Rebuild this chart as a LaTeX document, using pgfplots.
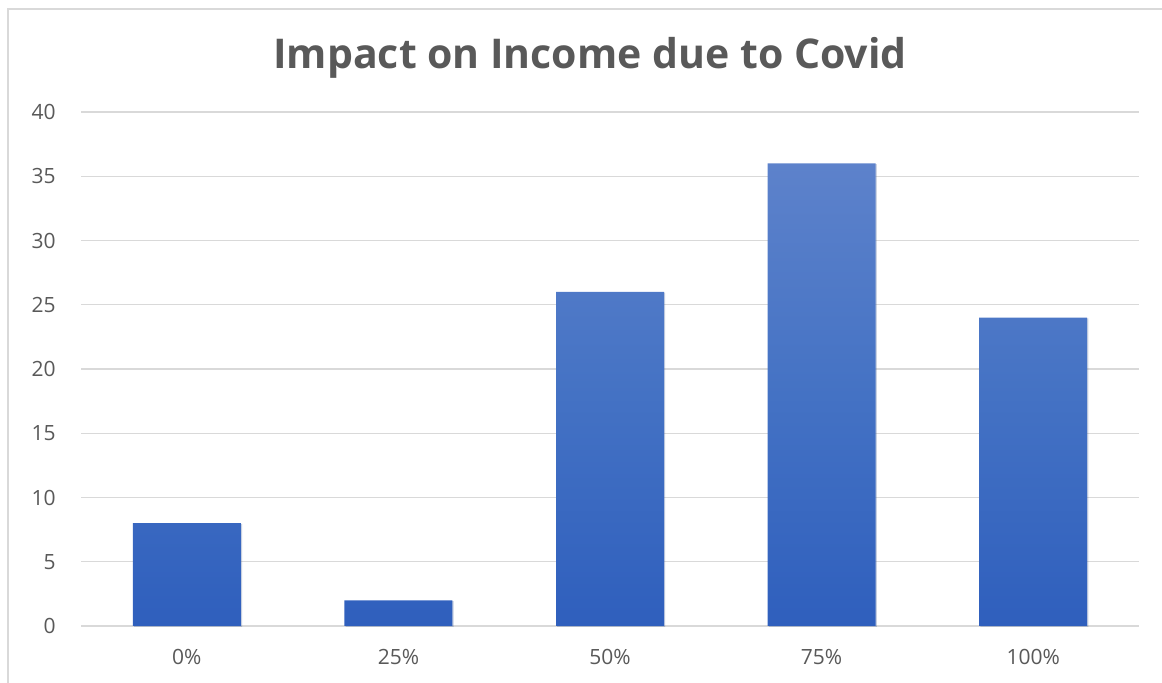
\documentclass[border=0pt]{standalone}
\usepackage{pgfplots}
\pgfplotsset{compat=1.18}
\usepackage{fontspec}
\setmainfont{Open Sans}
\usetikzlibrary{shadows}
\definecolor{txt}{HTML}{595959}
\definecolor{gridc}{HTML}{D9D9D9}
\definecolor{bartop}{HTML}{5D82CB}
\definecolor{barmid}{HTML}{4472C4}
\definecolor{barbot}{HTML}{2F5FBD}
\begin{document}
\begin{tikzpicture}
\path[use as bounding box] (0,0) rectangle (581pt,341.5pt);
\draw[gridc, line width=1pt] (4pt,0) -- (4pt,337pt) -- (581pt,337pt);
\begin{axis}[
  at={(40.5pt,28.5pt)}, anchor=south west,
  scale only axis, width=529pt, height=257pt,
  xmin=-0.5, xmax=4.5, ymin=0, ymax=40,
  ytick={0,5,...,40},
  xtick={0,1,2,3,4},
  xticklabels={0\%,25\%,50\%,75\%,100\%},
  ybar, bar width=54pt,
  separate axis lines,
  axis x line*=bottom, axis y line*=left,
  x axis line style={gridc, line width=1pt},
  y axis line style={draw=none},
  major tick length=0pt,
  ymajorgrids, grid style={gridc, line width=0.7pt},
  /pgf/number format/assume math mode=true,
  tick label style={text=txt, font=\fontsize{10.5}{12}\selectfont},
  yticklabel style={anchor=east, inner sep=0pt, xshift=-12.5pt},
  xticklabel style={anchor=center, inner sep=0pt, yshift=-15.5pt},
  clip=false,
]
\addplot[draw=none, top color=bartop, bottom color=barbot, middle color=barmid,
  drop shadow={shadow xshift=0.6pt, shadow yshift=-0.4pt, opacity=0.18}]
  coordinates {(0,8) (1,2) (2,26) (3,36) (4,24)};
\end{axis}
\node[anchor=base, text=txt, font=\fontsize{20.5}{24}\selectfont\bfseries] at (295pt,307pt) {Impact on Income due to Covid};
\end{tikzpicture}
\end{document}
